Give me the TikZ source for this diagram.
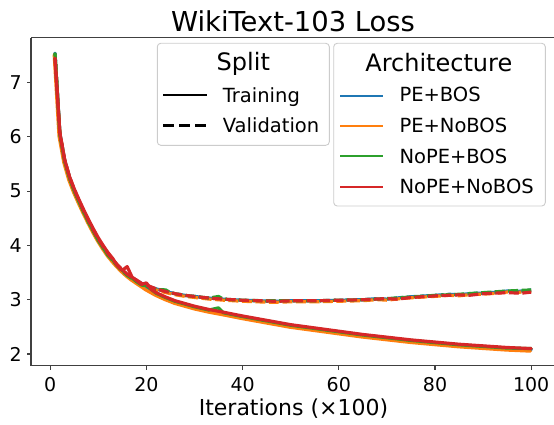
\documentclass[tikz,border=0pt]{standalone}
\usepackage{fontspec}
\setmainfont{DejaVu Sans}
\definecolor{tabblue}{HTML}{1F77B4}
\definecolor{taborange}{HTML}{FF7F0E}
\definecolor{tabgreen}{HTML}{2CA02C}
\definecolor{tabred}{HTML}{D62728}
\definecolor{spinecol}{HTML}{404040}
\tikzset{
  spine/.style={draw=spinecol, line width=1.1pt},
  tickmark/.style={draw=spinecol, line width=1.1pt},
  ticklab/.style={inner sep=0pt, font=\fontsize{19}{22}\selectfont},
  legbox/.style={draw=black!20, fill=white, fill opacity=0.8, line width=0.9pt, rounded corners=3.5pt},
  legtitle/.style={inner sep=0pt, anchor=base, font=\fontsize{24}{28}\selectfont},
  legtext/.style={inner sep=0pt, anchor=base west, font=\fontsize{19.5}{23}\selectfont},
  trainline/.style={line width=3.2pt, line join=round, line cap=round},
  valline/.style={line width=3.2pt, line join=round, dash pattern=on 10pt off 3.5pt},
}
\def\trainbase{(1,7.55) -- (2,6.05) -- (3,5.56) -- (4,5.25) -- (5,5.02) -- (6,4.82) -- (7,4.63) -- (8,4.45) -- (9,4.28) -- (10,4.12) -- (11,3.98) -- (12,3.85) -- (13,3.74) -- (14,3.64) -- (15,3.55) -- (16,3.47) -- (17,3.40) -- (18,3.34) -- (19,3.28) -- (20,3.22) -- (22,3.12) -- (24,3.04) -- (26,2.97) -- (28,2.92) -- (30,2.87) -- (33,2.81) -- (36,2.76) -- (40,2.69) -- (45,2.61) -- (50,2.53) -- (55,2.47) -- (60,2.41) -- (65,2.35) -- (70,2.30) -- (75,2.25) -- (80,2.21) -- (85,2.17) -- (90,2.14) -- (95,2.11) -- (100,2.09)}
\def\traingreen{(1,7.53) -- (2,6.04) -- (3,5.55) -- (4,5.24) -- (5,5.00) -- (6,4.80) -- (7,4.61) -- (8,4.42) -- (9,4.26) -- (10,4.09) -- (11,3.96) -- (12,3.82) -- (13,3.73) -- (14,3.62) -- (15,3.54) -- (16,3.46) -- (17,3.40) -- (18,3.33) -- (19,3.27) -- (20,3.26) -- (22,3.12) -- (24,3.04) -- (26,2.97) -- (28,2.92) -- (30,2.87) -- (33,2.81) -- (35,2.85) -- (36,2.76) -- (40,2.69) -- (45,2.61) -- (50,2.53) -- (55,2.47) -- (60,2.41) -- (65,2.35) -- (70,2.30) -- (75,2.25) -- (80,2.21) -- (85,2.17) -- (90,2.14) -- (95,2.11) -- (100,2.10)}
\def\trainred{(1,7.45) -- (2,6.07) -- (3,5.58) -- (4,5.27) -- (5,5.04) -- (6,4.84) -- (7,4.65) -- (8,4.47) -- (9,4.30) -- (10,4.14) -- (11,4.00) -- (12,3.87) -- (13,3.76) -- (14,3.62) -- (15,3.54) -- (16,3.61) -- (17,3.42) -- (18,3.35) -- (19,3.28) -- (20,3.31) -- (21,3.19) -- (22,3.13) -- (24,3.05) -- (26,2.98) -- (28,2.93) -- (30,2.88) -- (33,2.82) -- (36,2.77) -- (40,2.70) -- (45,2.62) -- (50,2.54) -- (55,2.48) -- (60,2.42) -- (65,2.36) -- (70,2.31) -- (75,2.26) -- (80,2.22) -- (85,2.18) -- (90,2.15) -- (95,2.12) -- (100,2.10)}
\def\valbase{(1,7.55) -- (2,6.08) -- (3,5.57) -- (4,5.26) -- (5,5.02) -- (6,4.82) -- (7,4.62) -- (8,4.44) -- (9,4.27) -- (10,4.11) -- (11,3.97) -- (12,3.84) -- (13,3.73) -- (14,3.63) -- (15,3.54) -- (16,3.46) -- (17,3.40) -- (18,3.35) -- (19,3.30) -- (20,3.26) -- (22,3.20) -- (24,3.15) -- (26,3.11) -- (28,3.08) -- (30,3.06) -- (33,3.03) -- (36,3.01) -- (40,2.99) -- (43,2.98) -- (46,2.97) -- (50,2.98) -- (55,2.98) -- (60,2.99) -- (65,3.00) -- (68,3.02) -- (70,3.01) -- (73,3.04) -- (76,3.06) -- (80,3.08) -- (83,3.10) -- (85,3.09) -- (88,3.12) -- (90,3.12) -- (93,3.14) -- (95,3.16) -- (97,3.15) -- (100,3.18)}
\def\valgreen{(1,7.53) -- (2,6.07) -- (3,5.56) -- (4,5.25) -- (5,5.01) -- (6,4.81) -- (7,4.61) -- (8,4.43) -- (9,4.26) -- (10,4.10) -- (11,3.96) -- (12,3.83) -- (13,3.72) -- (14,3.62) -- (15,3.53) -- (16,3.45) -- (17,3.39) -- (18,3.34) -- (19,3.29) -- (20,3.26) -- (22,3.19) -- (24,3.18) -- (25,3.13) -- (26,3.11) -- (28,3.08) -- (30,3.06) -- (33,3.03) -- (35,3.06) -- (36,3.01) -- (40,2.99) -- (45,2.98) -- (50,2.98) -- (55,2.98) -- (60,2.99) -- (65,3.00) -- (70,3.02) -- (75,3.05) -- (80,3.08) -- (85,3.10) -- (90,3.13) -- (95,3.16) -- (100,3.18)}
\def\valred{(1,7.45) -- (2,6.09) -- (3,5.58) -- (4,5.27) -- (5,5.03) -- (6,4.83) -- (7,4.63) -- (8,4.45) -- (9,4.28) -- (10,4.12) -- (11,3.98) -- (12,3.85) -- (13,3.74) -- (14,3.64) -- (15,3.55) -- (16,3.47) -- (17,3.41) -- (18,3.36) -- (19,3.30) -- (20,3.27) -- (22,3.20) -- (24,3.15) -- (26,3.11) -- (28,3.08) -- (30,3.06) -- (33,3.03) -- (36,3.01) -- (40,2.99) -- (44,2.98) -- (47,2.97) -- (50,2.98) -- (55,2.98) -- (60,2.99) -- (65,3.00) -- (70,3.02) -- (72,3.01) -- (75,3.04) -- (80,3.07) -- (85,3.09) -- (87,3.08) -- (90,3.11) -- (95,3.13) -- (98,3.12) -- (100,3.14)}
\begin{document}
\begin{tikzpicture}[x=1pt,y=1pt]
\useasboundingbox (0,0) rectangle (554,424);
% title
\node[inner sep=0pt, anchor=base, font=\fontsize{27.4}{32}\selectfont] (title) at (293,392.3) {WikiText-103 Loss};
% curves
\begin{scope}[shift={(50.2pt,-38.6pt)}, x=4.81pt, y=54.3pt]
  \clip (-4,1.785) rectangle (104.5,7.83);
  \draw[trainline, tabblue, yshift=-0.6pt] \trainbase;
  \draw[valline, tabblue, dash phase=2pt] \valbase;
  \draw[trainline, taborange, yshift=-2.0pt, xshift=-0.8pt] \trainbase;
  \draw[valline, taborange, dash phase=5pt, yshift=-1.0pt] \valbase;
  \draw[trainline, tabgreen] \traingreen;
  \draw[valline, tabgreen, dash phase=8pt] \valgreen;
  \draw[trainline, tabred] \trainred;
  \draw[valline, tabred] \valred;
\end{scope}
% spines
\draw[spine] (31,386.3) -- (31,58.3) -- (554,58.3);
\draw[spine] (31,386.3) -- (554,386.3);
% y ticks
\foreach \v in {2,...,7} {
  \draw[tickmark] (31,{70+54.3*(\v-2)}) -- (26.5,{70+54.3*(\v-2)});
  \node[ticklab, anchor=east] (yt\v) at (21.8,{70+54.3*(\v-2)}) {\v};
}
% x ticks
\foreach \k/\lab in {0/0,1/20,2/40,3/60,4/80,5/100} {
  \draw[tickmark] ({50.2+96.2*\k},58.3) -- ({50.2+96.2*\k},53.8);
  \node[ticklab, anchor=base] (xt\k) at ({50.2+96.2*\k},32.5) {\lab};
}
\node[inner sep=0pt, anchor=base, font=\fontsize{22}{26}\selectfont] (xlabel) at (293.5,9) {Iterations (×100)};
% legend: Split
\draw[legbox] (157.3,278.7) rectangle (329.3,380.7);
\node[legtitle] (splittitle) at (243.3,353) {Split};
\draw[black, line width=2.8pt] (163.3,329) -- (206.7,329);
\node[legtext] (ltrain) at (222.7,321.7) {Training};
\draw[black, line width=2.8pt, dash pattern=on 11pt off 5pt] (163.3,298.3) -- (206.7,298.3);
\node[legtext] (lval) at (222.7,291.7) {Validation};
% legend: Architecture
\draw[legbox] (333.7,218) rectangle (545.3,380.7);
\node[legtitle] (archtitle) at (438.8,352.3) {Architecture};
\draw[tabblue, line width=2pt] (340,328.3) -- (383.3,328.3);
\node[legtext] (l1) at (399.3,322.3) {PE+BOS};
\draw[taborange, line width=2pt] (340,298.3) -- (383.3,298.3);
\node[legtext] (l2) at (399.3,291.7) {PE+NoBOS};
\draw[tabgreen, line width=2pt] (340,268.3) -- (383.3,268.3);
\node[legtext] (l3) at (399.3,260.7) {NoPE+BOS};
\draw[tabred, line width=2pt] (340,237.3) -- (383.3,237.3);
\node[legtext] (l4) at (399.3,230.7) {NoPE+NoBOS};
\end{tikzpicture}
\end{document}
